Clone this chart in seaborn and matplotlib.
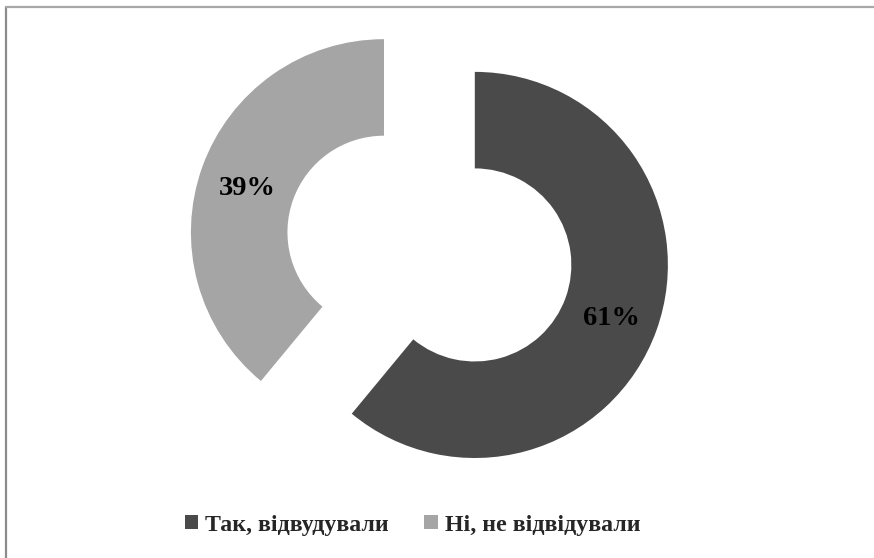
import matplotlib.pyplot as plt
import matplotlib.transforms as mtransforms
import seaborn as sns
from matplotlib.lines import Line2D
from matplotlib.patches import Patch

sns.set_theme(style="white")
plt.rcParams['font.family'] = ['Liberation Serif', 'DejaVu Serif']

# Дані
categories = ['Так, відвудували', 'Ні, не відвідували']
values = [61, 39]
colors = ['#4a4a4a', '#a5a5a5']

fig = plt.figure(figsize=(8.74, 5.58), dpi=100)
ax = fig.add_axes([0.2041, 0.1047, 0.5744, 0.8996])

wedges, texts, autotexts = ax.pie(
    values, colors=colors, startangle=90, counterclock=False,
    explode=[0.25, 0.25], autopct='%d%%', pctdistance=0.75,
    wedgeprops=dict(width=0.5, edgecolor='none'),
    textprops=dict(fontsize=20.5, fontweight='bold', color='black'))
# трохи нижче, як в оригіналі
for t in autotexts:
    t.set_transform(mtransforms.offset_copy(t.get_transform(), fig, y=-5, units='dots'))
ax.set_xlim(-1.3, 1.3)
ax.set_ylim(-1.3, 1.3)
ax.set_aspect('equal')
ax.axis('off')

# рамка
fig.add_artist(Line2D([6 / 874, 6 / 874], [0, 1 - 7 / 558], transform=fig.transFigure,
                      color='#8c8c8c', lw=1.6))
fig.add_artist(Line2D([6 / 874, 1], [1 - 7 / 558, 1 - 7 / 558], transform=fig.transFigure,
                      color='#a8a8a8', lw=1.6))

handles = [Patch(facecolor=c, edgecolor='none') for c in colors]
fig.legend(handles, categories, loc='center', bbox_to_anchor=(412.5 / 874, 1 - 525 / 558),
           ncol=2, frameon=False, handlelength=0.55, handleheight=0.55,
           handletextpad=0.3, columnspacing=1.5,
           prop=dict(family='Liberation Serif', weight='bold', size=17.2))

plt.savefig('out.png', dpi=100)
